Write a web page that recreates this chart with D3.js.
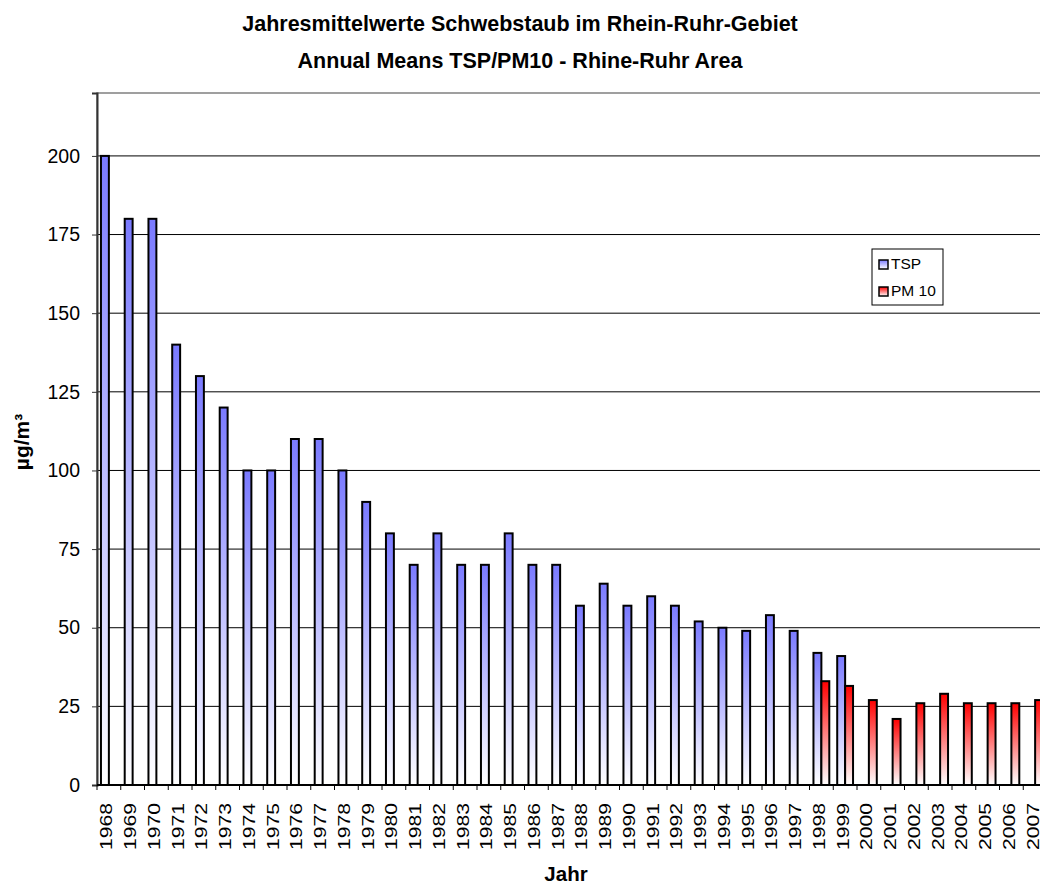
<!DOCTYPE html>
<html>
<head>
<meta charset="utf-8">
<script src="https://cdn.jsdelivr.net/npm/d3@7"></script>
<style>
  html, body { margin: 0; padding: 0; background: #fff; }
  svg { display: block; font-family: "Liberation Sans", Arial, sans-serif; }
</style>
</head>
<body>
<svg id="chart" width="1040" height="887"></svg>
<script>
// Annual means of suspended particulate matter, Rhine-Ruhr area (µg/m³)
const years = ["1968","1969","1970","1971","1972","1973","1974","1975","1976","1977",
               "1978","1979","1980","1981","1982","1983","1984","1985","1986","1987",
               "1988","1989","1990","1991","1992","1993","1994","1995","1996","1997",
               "1998","1999","2000","2001","2002","2003","2004","2005","2006","2007"];
const tsp  = [200,180,180,140,130,120,100,100,110,110,
              100, 90, 80, 70, 80, 70, 70, 80, 70, 70,
               57, 64, 57, 60, 57, 52, 50, 49, 54, 49,
               42, 41, null,null,null,null,null,null,null,null];
const pm10 = [null,null,null,null,null,null,null,null,null,null,
              null,null,null,null,null,null,null,null,null,null,
              null,null,null,null,null,null,null,null,null,null,
               33, 31.5, 27, 21, 26, 29, 26, 26, 26, 27];
const yTicks = [0, 25, 50, 75, 100, 125, 150, 175, 200];
const seriesNames = ["TSP", "PM 10"];
const seriesColors = ["#7a7aff", "#ff0000"];

const svg = d3.select("#chart");
const plot = { left: 97, top: 93, bottom: 785, step: 23.75 };
plot.right = plot.left + plot.step * years.length;

const x = d3.scaleBand().domain(years).range([plot.left, plot.right]).paddingInner(0).paddingOuter(0);
const y = d3.scaleLinear().domain([0, 220]).range([plot.bottom, plot.top]);
// two bars side by side, half a bar of space on each side
const sub = d3.scaleBand().domain(seriesNames).range([0, x.bandwidth()]).paddingInner(0).paddingOuter(0.5);

// vertical fade gradients: full colour at the top, white at the base
const defs = svg.append("defs");
seriesColors.forEach((c, i) => {
  const g = defs.append("linearGradient").attr("id", "fade" + i)
    .attr("x1", 0).attr("y1", 0).attr("x2", 0).attr("y2", 1);
  g.append("stop").attr("offset", "0%").attr("stop-color", c);
  g.append("stop").attr("offset", "100%").attr("stop-color", "#ffffff");
});

// titles
const title = svg.append("g").attr("font-weight", "bold").attr("font-size", 21.5).attr("text-anchor", "middle");
title.append("text").attr("x", 520).attr("y", 31).text("Jahresmittelwerte Schwebstaub im Rhein-Ruhr-Gebiet");
title.append("text").attr("x", 520).attr("y", 68).text("Annual Means TSP/PM10 - Rhine-Ruhr Area");

// plot area border
svg.append("rect").attr("x", plot.left).attr("y", plot.top)
  .attr("width", plot.right - plot.left).attr("height", plot.bottom - plot.top)
  .attr("fill", "none").attr("stroke", "#808080").attr("stroke-width", 1.5);

// gridlines
svg.append("g").selectAll("line").data(yTicks.filter(d => d > 0)).join("line")
  .attr("x1", plot.left).attr("x2", plot.right)
  .attr("y1", d => y(d)).attr("y2", d => y(d))
  .attr("stroke", "#000").attr("stroke-width", 1);

// bars
const seriesData = [tsp, pm10];
seriesData.forEach((vals, si) => {
  svg.append("g").selectAll("rect")
    .data(years.map((yr, i) => ({ yr, v: vals[i] })).filter(d => d.v != null))
    .join("rect")
    .attr("x", d => x(d.yr) + sub(seriesNames[si]))
    .attr("y", d => y(d.v))
    .attr("width", sub.bandwidth())
    .attr("height", d => plot.bottom - y(d.v))
    .attr("fill", `url(#fade${si})`)
    .attr("stroke", "#000").attr("stroke-width", 2);
});

// y axis
const yAxis = svg.append("g").attr("transform", `translate(${plot.left},0)`)
  .call(d3.axisLeft(y).tickValues(yTicks).tickSize(5).tickPadding(12));
yAxis.select(".domain").attr("stroke", "#333").attr("stroke-width", 2);
yAxis.selectAll(".tick line").attr("stroke", "#333");
yAxis.selectAll(".tick text").attr("font-size", 19.5).attr("fill", "#000")
  .attr("font-family", "Liberation Sans, Arial, sans-serif");

// x axis: ticks between categories, labels rotated and drawn a little elongated
const xAxis = svg.append("g").attr("transform", `translate(0,${plot.bottom})`);
xAxis.append("line").attr("x1", plot.left).attr("x2", plot.right)
  .attr("stroke", "#000").attr("stroke-width", 2);
xAxis.selectAll("line.tk").data(years).join("line").attr("class", "tk")
  .attr("x1", d => x(d)).attr("x2", d => x(d)).attr("y1", 0).attr("y2", 5)
  .attr("stroke", "#000");
xAxis.selectAll("text").data(years).join("text")
  .attr("transform", d => `translate(${x(d) + x.bandwidth() / 2 + 3.5},18) rotate(-90) scale(1.32,1)`)
  .attr("text-anchor", "end").attr("font-size", 16).text(d => d);

// axis titles
svg.append("text").attr("transform", "translate(29,442) rotate(-90)")
  .attr("text-anchor", "middle").attr("font-weight", "bold").attr("font-size", 21).text("µg/m³");
svg.append("text").attr("x", 566).attr("y", 881)
  .attr("text-anchor", "middle").attr("font-weight", "bold").attr("font-size", 20.5).text("Jahr");

// legend
const legend = svg.append("g").attr("transform", "translate(872,249)");
legend.append("rect").attr("width", 71).attr("height", 56)
  .attr("fill", "#fff").attr("stroke", "#000").attr("stroke-width", 1);
seriesNames.forEach((n, i) => {
  const row = legend.append("g").attr("transform", `translate(7,${11 + i * 27})`);
  row.append("rect").attr("width", 9).attr("height", 9)
    .attr("fill", `url(#fade${i})`).attr("stroke", "#000").attr("stroke-width", 1.5);
  row.append("text").attr("x", 12).attr("y", 9).attr("font-size", 15.5).text(n);
});
</script>
</body>
</html>
